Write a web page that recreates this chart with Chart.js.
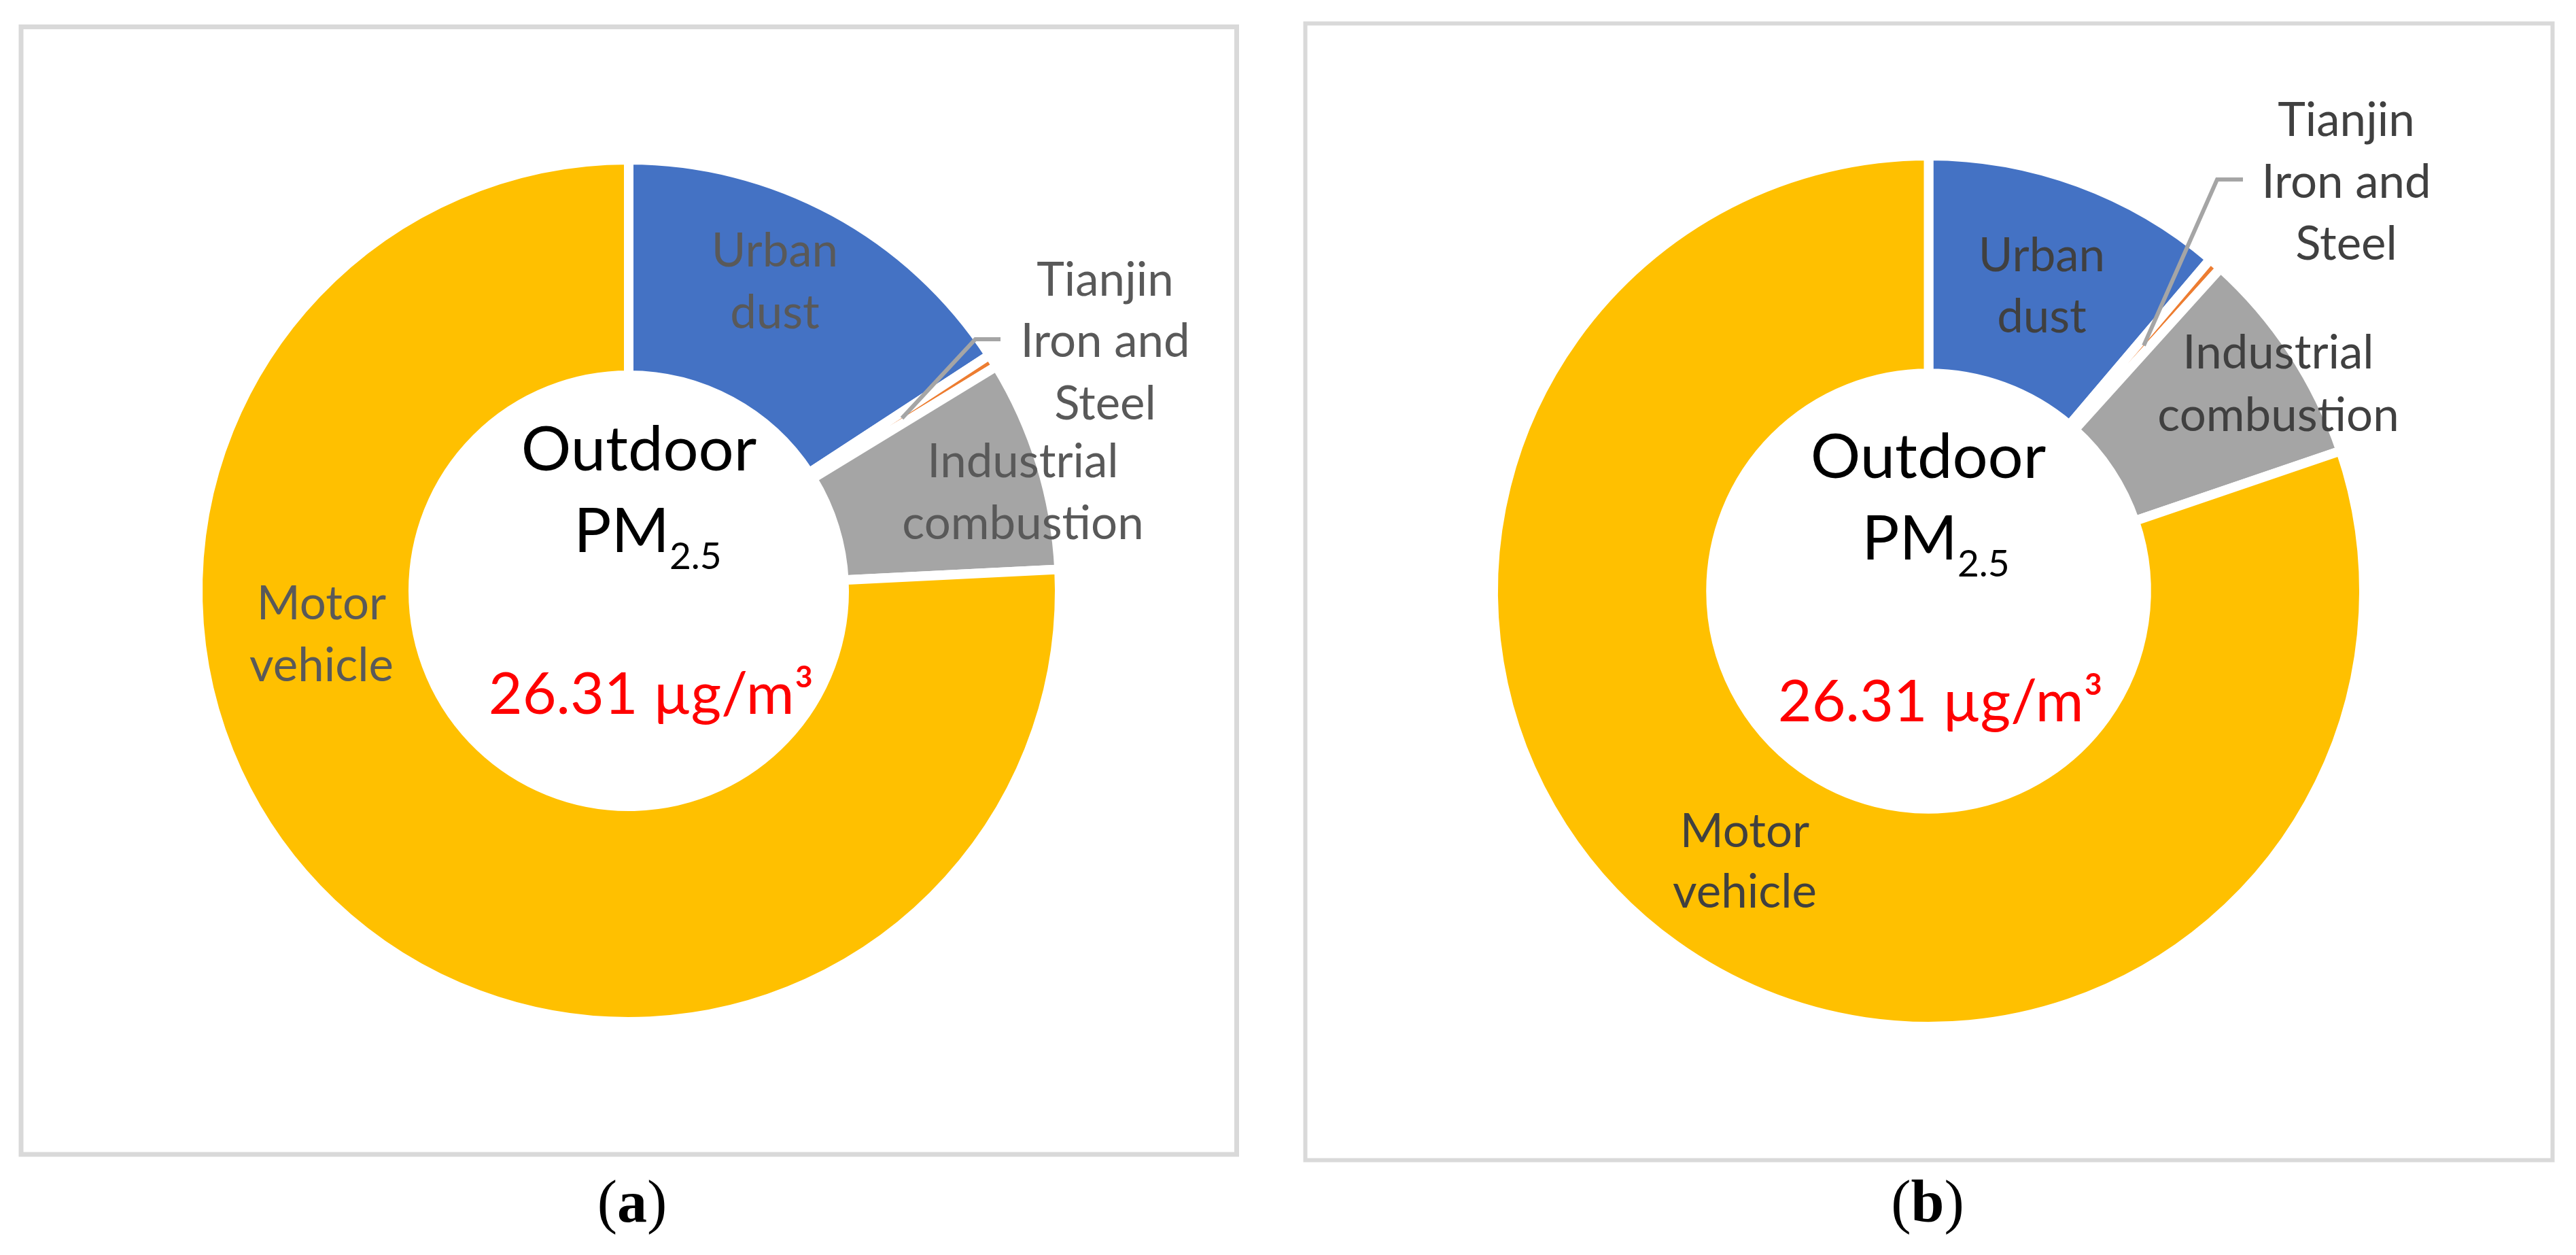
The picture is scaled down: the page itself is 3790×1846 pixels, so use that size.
<!DOCTYPE html>
<html>
<head>
<meta charset="utf-8">
<script src="https://cdn.jsdelivr.net/npm/chart.js@4"></script>
<style>
  html, body { margin: 0; padding: 0; background: #ffffff; }
  body { width: 3790px; height: 1846px; position: relative; overflow: hidden; }
  canvas { position: absolute; }
  #overlay { position: absolute; left: 0; top: 0; pointer-events: none; }
</style>
</head>
<body>
<canvas id="chartA" width="1850" height="1738" style="left:0px;top:0px;width:1850px;height:1738px"></canvas>
<canvas id="chartB" width="1885" height="1739" style="left:1895px;top:0px;width:1885px;height:1739px"></canvas>
<svg id="overlay" width="3790" height="1846" xmlns="http://www.w3.org/2000/svg"></svg>
<script>
// ---- data ----
const categories = ["Urban dust", "Tianjin Iron and Steel", "Industrial combustion", "Motor vehicle"];
const valuesA = [15.79, 0.49, 7.93, 75.79];
const valuesB = [11.20, 0.50, 8.08, 80.22];
const sliceColors = ["#4472C4", "#ED7D31", "#A5A5A5", "#FFC000"];
const labelLines = [["Urban", "dust"], ["Tianjin", "Iron and", "Steel"], ["Industrial", "combustion"], ["Motor", "vehicle"]];
const centerTitle = "Outdoor";
const centerPM = "PM";
const centerSub = "2.5";
const centerValue = "26.31 \u00B5g/m\u00B3";
const captions = ["a", "b"];

// ---- layout (positions / styles) ----
const panels = [
  { canvas: "chartA", values: valuesA, radius: 634, labelColor: "#595959",
    frame: { x1: 31, y1: 39.5, x2: 1819.5, y2: 1698, w: 7 },
    leader: { elbow: [510, -370], end: [547, -370] },
    labels: [ { x: 1140, y: [392, 483] }, { x: 1626, y: [435, 525, 617] }, { x: 1505, y: [702, 793] }, { x: 473, y: [911, 1002] } ],
    center: { tx: 940, ty: 692, px: 953, py: 812, vx: 958, vy: 1050 },
    caption: { x: 930, y: 1797 } },
  { canvas: "chartB", values: valuesB, radius: 640.5, labelColor: "#404040",
    frame: { x1: 1920.5, y1: 34.5, x2: 3755.5, y2: 1706.5, w: 6 },
    leader: { elbow: [424.5, -605.5], end: [462.5, -605.5] },
    labels: [ { x: 3004, y: [399, 489] }, { x: 3452, y: [200, 291, 382] }, { x: 3352, y: [542, 634] }, { x: 2567, y: [1246, 1335] } ],
    center: { tx: 2837, ty: 703, px: 2848, py: 823, vx: 2855, vy: 1061 },
    caption: { x: 2836, y: 1797 } }
];

const leaderPlugin = {
  id: "leader",
  afterDatasetsDraw(chart, args, opts) {
    const arc = chart.getDatasetMeta(0).data[1];
    const p = arc.getProps(["x", "y", "startAngle", "endAngle", "outerRadius"], true);
    const mid = (p.startAngle + p.endAngle) / 2;
    const r0 = p.outerRadius * 0.75;
    const ctx = chart.ctx;
    ctx.save();
    ctx.strokeStyle = "#A5A5A5";
    ctx.lineWidth = 6;
    ctx.lineJoin = "miter";
    ctx.beginPath();
    ctx.moveTo(p.x + Math.cos(mid) * r0, p.y + Math.sin(mid) * r0);
    ctx.lineTo(p.x + opts.elbow[0], p.y + opts.elbow[1]);
    ctx.lineTo(p.x + opts.end[0], p.y + opts.end[1]);
    ctx.stroke();
    ctx.restore();
  }
};

panels.forEach(pn => {
  new Chart(document.getElementById(pn.canvas), {
    type: "doughnut",
    data: {
      labels: categories,
      datasets: [{
        data: pn.values,
        backgroundColor: sliceColors,
        borderColor: "#ffffff",
        borderWidth: 14,
        hoverBorderWidth: 14,
        hoverOffset: 0,
        offset: 0
      }]
    },
    options: {
      responsive: false,
      animation: false,
      events: [],
      cutout: "50%",
      radius: pn.radius,
      layout: { padding: 0 },
      plugins: { legend: { display: false }, tooltip: { enabled: false }, leader: pn.leader }
    },
    plugins: [leaderPlugin]
  });
});

// ---- overlay text ----
const NS = "http://www.w3.org/2000/svg";
const svg = document.getElementById("overlay");
function el(tag, attrs, text) {
  const e = document.createElementNS(NS, tag);
  for (const k in attrs) e.setAttribute(k, attrs[k]);
  if (text !== undefined) e.textContent = text;
  svg.appendChild(e);
  return e;
}
panels.forEach((pn, pi) => {
  const f = pn.frame;
  el("rect", { x: f.x1, y: f.y1, width: f.x2 - f.x1, height: f.y2 - f.y1, fill: "none", stroke: "#D9D9D9", "stroke-width": f.w });
  pn.labels.forEach((lb, i) => {
    labelLines[i].forEach((line, j) => {
      el("text", { x: lb.x, y: lb.y[j], "text-anchor": "middle", "font-family": "Lato", "font-size": 69, fill: pn.labelColor }, line);
    });
  });
  const c = pn.center;
  el("text", { x: c.tx, y: c.ty, "text-anchor": "middle", "font-family": "Lato", "font-size": 92, fill: "#000000" }, centerTitle);
  const pm = el("text", { x: c.px, y: c.py, "text-anchor": "middle", "font-family": "Lato", "font-size": 92, fill: "#000000" });
  pm.appendChild(document.createTextNode(centerPM));
  const sub = document.createElementNS(NS, "tspan");
  sub.setAttribute("font-size", 55);
  sub.setAttribute("dy", 25);
  sub.textContent = centerSub;
  pm.appendChild(sub);
  el("text", { x: c.vx, y: c.vy, "text-anchor": "middle", "font-family": "Lato", "font-size": 86, fill: "#FF0000" }, centerValue);
  const cap = el("text", { x: pn.caption.x, y: pn.caption.y, "text-anchor": "middle", "font-family": "Liberation Serif, Times New Roman, serif", "font-size": 88, fill: "#000000" });
  cap.appendChild(document.createTextNode("("));
  const b = document.createElementNS(NS, "tspan");
  b.setAttribute("font-weight", "bold");
  b.textContent = captions[pi];
  cap.appendChild(b);
  cap.appendChild(document.createTextNode(")"));
});
</script>
</body>
</html>
